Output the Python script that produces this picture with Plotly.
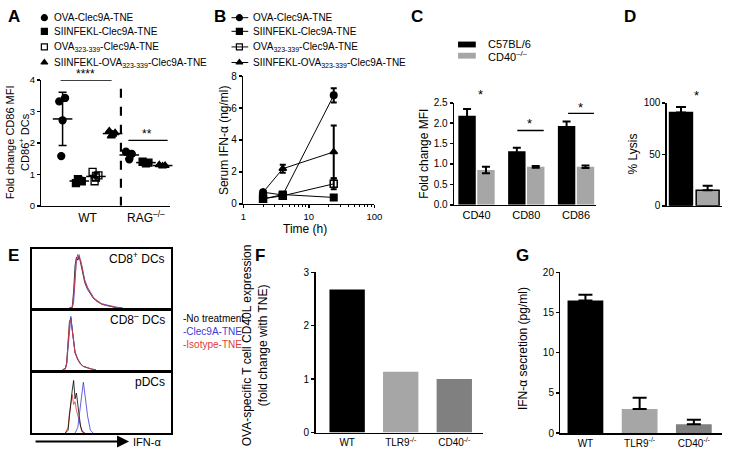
import plotly.graph_objects as go
import numpy as np

W, H = 732, 469
FONT = "Liberation Sans, Arial, Helvetica, sans-serif"

# ---------------- DATA ----------------
# Panel A: fold change CD86 MFI (individual mice)
A_group_labels = ["WT", "RAG<sup>–/–</sup>"]
A_series_names = ["OVA-Clec9A-TNE", "SIINFEKL-Clec9A-TNE",
                  "OVA<sub>323-339</sub>-Clec9A-TNE",
                  "SIINFEKL-OVA<sub>323-339</sub>-Clec9A-TNE"]
A_ova_wt = [3.32, 3.43, 2.72, 1.58]
A_siin_wt = [0.72, 0.78, 0.80, 0.85]
A_ova323_wt = [1.08, 0.97, 0.90, 0.78]
A_siinova_wt = [2.38, 2.32, 2.27, 2.22]
A_ova_rag = [1.72, 1.65, 1.48]
A_siin_rag = [1.40, 1.37, 1.35]
A_siinova_rag = [1.30, 1.28, 1.26]

# Panel B: serum IFN-alpha over time
B_time = [2, 4, 24]
B_ova = [0.73, 0.55, 6.80]
B_ova_err = [0.10, 0.08, 0.45]
B_siin = [0.30, 0.58, 0.40]
B_siin_err = [0.05, 0.05, 0.05]
B_ova323 = [0.32, 0.50, 1.25]
B_ova323_err = [0.05, 0.10, 0.33]
B_siinova = [0.72, 2.20, 3.25]
B_siinova_err = [0.10, 0.25, 1.65]

# Panel C: fold change MFI
C_markers = ["CD40", "CD80", "CD86"]
C_series = ["C57BL/6", "CD40<sup>–/–</sup>"]
C_wt = [2.18, 1.31, 1.93]
C_wt_err = [0.17, 0.09, 0.11]
C_ko = [0.85, 0.93, 0.93]
C_ko_err = [0.08, 0.02, 0.03]

# Panel D: % lysis
D_groups = ["C57BL/6", "CD40-/-"]
D_vals = [90.5, 15.0]
D_err = [5.5, 4.5]

# Panel E: IFN-alpha histograms (relative intensity vs. relative fluorescence)
E1_x = [0.27, 0.29, 0.30, 0.31, 0.32, 0.33, 0.34, 0.35, 0.36, 0.37, 0.38, 0.40,
        0.42, 0.44, 0.46, 0.48, 0.50, 0.53, 0.56, 0.60, 0.65]
E1_none = [0, 0.02, 0.30, 0.75, 0.90, 0.85, 0.92, 0.80, 0.70, 0.55, 0.45, 0.33,
           0.25, 0.18, 0.13, 0.10, 0.07, 0.05, 0.03, 0.01, 0]
E1_clec = [0, 0, 0.10, 0.50, 0.85, 0.95, 0.88, 0.85, 0.72, 0.60, 0.50, 0.37,
           0.27, 0.20, 0.15, 0.11, 0.08, 0.06, 0.04, 0.02, 0]
E1_iso = [0, 0.01, 0.20, 0.65, 0.88, 0.90, 0.95, 0.82, 0.75, 0.60, 0.48, 0.35,
          0.26, 0.19, 0.14, 0.10, 0.07, 0.05, 0.03, 0.015, 0]
E2_x = [0.22, 0.24, 0.25, 0.26, 0.27, 0.28, 0.29, 0.30, 0.31, 0.33, 0.35, 0.37,
        0.40, 0.43, 0.46]
E2_none = [0, 0.02, 0.12, 0.45, 0.85, 0.92, 0.70, 0.45, 0.30, 0.18, 0.10, 0.06, 0.03, 0.01, 0]
E2_clec = [0, 0.01, 0.10, 0.40, 0.80, 0.95, 0.72, 0.48, 0.32, 0.19, 0.11, 0.06, 0.03, 0.01, 0]
E2_iso = [0, 0.02, 0.11, 0.43, 0.83, 0.90, 0.68, 0.46, 0.30, 0.18, 0.10, 0.06, 0.03, 0.01, 0]
E3_x = [0.24, 0.26, 0.27, 0.28, 0.29, 0.30, 0.31, 0.32, 0.33, 0.34, 0.35, 0.36, 0.38]
E3_none = [0, 0.05, 0.30, 0.60, 0.75, 0.92, 0.60, 0.70, 0.45, 0.30, 0.12, 0.04, 0]
E3_iso = [0, 0.10, 0.35, 0.55, 0.67, 0.50, 0.55, 0.40, 0.30, 0.20, 0.08, 0.02, 0]
E3_clec_x = [0.31, 0.33, 0.34, 0.35, 0.36, 0.37, 0.38, 0.39, 0.40, 0.41, 0.42, 0.44]
E3_clec = [0, 0.10, 0.30, 0.55, 0.70, 0.89, 0.65, 0.50, 0.30, 0.15, 0.05, 0]
E_panels = ["CD8<sup>+</sup> DCs", "CD8<sup>–</sup> DCs", "pDCs"]
E_legend = ["-No treatment", "-Clec9A-TNE", "-Isotype-TNE"]

# Panels F & G
FG_groups = ["WT", "TLR9<sup>-/-</sup>", "CD40<sup>-/-</sup>"]
F_vals = [2.68, 1.14, 1.00]
G_vals = [16.5, 3.0, 1.1]
G_err = [0.7, 1.4, 0.55]

# ---------------- HELPERS ----------------
def px(x):
    return x / W

def py(y):
    return 1 - y / H

def dx(a, b):
    return [px(a), px(b)]

def dy(top, bottom):
    return [py(bottom), py(top)]

BLACK = "black"
GRAY = "#a6a6a6"
DGRAY = "#808080"
BLUE = "#3a3ad6"
RED = "#e23a3a"

def ax(**kw):
    d = dict(showline=True, linecolor=BLACK, linewidth=1.5, showgrid=False,
             zeroline=False, ticks="outside", ticklen=4, tickwidth=1.5,
             tickcolor=BLACK, tickfont=dict(size=10, family=FONT, color=BLACK),
             fixedrange=True)
    d.update(kw)
    return d

fig = go.Figure()
ann = []
shapes = []

def text(x, y, s, size=11, xanchor="center", yanchor="middle", angle=0,
         color=BLACK, bold=False):
    ann.append(dict(x=px(x), y=py(y), xref="paper", yref="paper", text=s,
                    showarrow=False, xanchor=xanchor, yanchor=yanchor,
                    textangle=angle,
                    font=dict(size=size, family=FONT, color=color,
                              weight="bold" if bold else "normal")))

# ---------------- PANEL A ----------------
A_specs = [
    (A_ova_wt, 1, "circle", BLACK),
    (A_siin_wt, 2, "square", BLACK),
    (A_ova323_wt, 3, "square-open", BLACK),
    (A_siinova_wt, 4, "triangle-up", BLACK),
    (A_ova_rag, 5, "circle", BLACK),
    (A_siin_rag, 6, "square", BLACK),
    (A_siinova_rag, 7, "triangle-up", BLACK),
]
jit = [-0.2, 0.15, 0.0, -0.08]
for vals, col, sym, c in A_specs:
    xs = [col + jit[i] for i in range(len(vals))]
    fig.add_trace(go.Scatter(x=xs, y=vals, mode="markers", xaxis="x", yaxis="y",
                             marker=dict(symbol=sym, size=7, color=c,
                                         line=dict(color=BLACK, width=1.3)),
                             showlegend=False, cliponaxis=False))
    m = float(np.mean(vals))
    sd = float(np.std(vals, ddof=1))
    fig.add_trace(go.Scatter(x=[col], y=[m], mode="markers", xaxis="x", yaxis="y",
                             marker=dict(symbol="line-ew", size=14,
                                         line=dict(color=BLACK, width=1.5)),
                             error_y=dict(type="data", array=[sd], color=BLACK,
                                          thickness=1.5, width=4),
                             showlegend=False, cliponaxis=False))

# dashed divider
shapes.append(dict(type="line", xref="x", yref="y", x0=4.5, x1=4.5, y0=0, y1=4.1,
                   line=dict(color=BLACK, width=2.2, dash="dash")))
# significance
shapes.append(dict(type="line", xref="x", yref="y", x0=0.88, x1=3.94, y0=4.0, y1=4.0,
                   line=dict(color=BLACK, width=1.3)))
shapes.append(dict(type="line", xref="x", yref="y", x0=4.95, x1=7.3, y0=2.08, y1=2.08,
                   line=dict(color=BLACK, width=1.3)))
text(84, 70, "****", size=12)
text(146, 131, "**", size=12)

layout_axes = {}
layout_axes["xaxis"] = ax(domain=dx(39, 170), range=[-0.27, 7.47], tickvals=[2.5, 6],
                          ticktext=A_group_labels, ticks="", anchor="y",
                          tickfont=dict(size=12, family=FONT, color=BLACK))
layout_axes["yaxis"] = ax(domain=dy(76, 205), range=[0, 4], tickvals=[0, 1, 2, 3, 4],
                          anchor="x", ticklen=3, tickfont=dict(size=9.5, family=FONT, color=BLACK))
text(15, 140, "Fold change CD86 MFI<br>CD86<sup>+</sup> DCs", size=11, angle=-90)

# Legend A (manual)
A_leg_y = [12, 26, 42, 58]
A_leg_sym = ["circle", "square", "square-open", "triangle-up"]
for yy, sym, name in zip(A_leg_y, A_leg_sym, A_series_names):
    fig.add_trace(go.Scatter(x=[42], y=[yy], mode="markers", xaxis="x10", yaxis="y10",
                             marker=dict(symbol=sym, size=6, color=BLACK,
                                         line=dict(color=BLACK, width=1.2)),
                             showlegend=False, cliponaxis=False))
    text(50, yy, name, size=10, xanchor="left")

# ---------------- PANEL B ----------------
B_specs = [
    (B_ova, B_ova_err, "circle", 6.5),
    (B_siin, B_siin_err, "square", 6.5),
    (B_ova323, B_ova323_err, "square-open", 7),
    (B_siinova, B_siinova_err, "triangle-up", 6.5),
]
for vals, err, sym, sz in B_specs:
    fig.add_trace(go.Scatter(x=B_time, y=vals, mode="lines+markers", xaxis="x2", yaxis="y2",
                             line=dict(color=BLACK, width=1),
                             marker=dict(symbol=sym, size=sz, color=BLACK,
                                         line=dict(color=BLACK, width=1.5)),
                             error_y=dict(type="data", array=err, color=BLACK,
                                          thickness=2, width=3),
                             showlegend=False, cliponaxis=False))
layout_axes["xaxis2"] = ax(domain=dx(244, 377), type="log", range=[0, 2],
                           tickvals=[1, 10, 100], ticktext=["1", "10", "100"], anchor="y2",
                           ticklen=3, tickfont=dict(size=9.5, family=FONT, color=BLACK),
                           minor=dict(tickvals=[2, 3, 4, 5, 6, 7, 8, 9, 20, 30, 40, 50, 60, 70, 80, 90],
                                      ticks="outside", ticklen=2, tickwidth=1, tickcolor=BLACK))
layout_axes["yaxis2"] = ax(domain=dy(72, 203), range=[0, 8], tickvals=[0, 2, 4, 6, 8],
                           anchor="x2", ticklen=3)
text(225, 138, "Serum IFN-α (ng/ml)", size=12, angle=-90)
text(307, 229, "Time (h)", size=12)

for yy, sym, name in zip(A_leg_y, A_leg_sym, A_series_names):
    fig.add_trace(go.Scatter(x=[232, 249], y=[yy, yy], mode="lines", xaxis="x10", yaxis="y10",
                             line=dict(color=BLACK, width=1), showlegend=False, cliponaxis=False))
    fig.add_trace(go.Scatter(x=[240], y=[yy], mode="markers", xaxis="x10", yaxis="y10",
                             marker=dict(symbol=sym, size=6, color=BLACK,
                                         line=dict(color=BLACK, width=1.2)),
                             showlegend=False, cliponaxis=False))
    text(252, yy, name, size=10, xanchor="left")

# ---------------- PANEL C ----------------
C_x = list(range(len(C_markers)))
fig.add_trace(go.Bar(x=C_x, y=C_wt, xaxis="x3", yaxis="y3", width=0.35, offset=-0.365,
                     marker=dict(color=BLACK, line=dict(width=0)),
                     error_y=dict(type="data", array=C_wt_err, color=BLACK, thickness=2, width=4),
                     showlegend=False))
fig.add_trace(go.Bar(x=C_x, y=C_ko, xaxis="x3", yaxis="y3", width=0.35, offset=0.015,
                     marker=dict(color=GRAY, line=dict(width=0)),
                     error_y=dict(type="data", array=C_ko_err, color=BLACK, thickness=2, width=4),
                     showlegend=False))
layout_axes["xaxis3"] = ax(domain=dx(458, 602), range=[-0.45, 2.4], tickvals=C_x,
                           ticktext=C_markers, ticks="", anchor="y3",
                           tickfont=dict(size=11, family=FONT, color=BLACK))
layout_axes["yaxis3"] = ax(domain=dy(99.3, 204), range=[0, 2.5],
                           tickvals=[0, 0.5, 1, 1.5, 2, 2.5], tickformat=".1f", anchor="x3",
                           ticklen=3)
text(428, 152, "Fold change MFI", size=12, angle=-90)
for x0, x1, yl in [(-0.15, 0.35, 2.55), (0.82, 1.35, 1.82), (1.84, 2.36, 2.24)]:
    shapes.append(dict(type="line", xref="x3", yref="y3", x0=x0, x1=x1, y0=yl, y1=yl,
                       line=dict(color=BLACK, width=1.3)))
text(485, 91, "*", size=13)
text(535, 121, "*", size=13)
text(586, 104, "*", size=13)
# legend C
shapes.append(dict(type="rect", xref="paper", yref="paper", x0=px(462), x1=px(480),
                   y0=py(42.5), y1=py(36.5), fillcolor=BLACK, line=dict(width=0)))
shapes.append(dict(type="rect", xref="paper", yref="paper", x0=px(462), x1=px(480),
                   y0=py(54), y1=py(48), fillcolor=GRAY, line=dict(width=0)))
text(490, 39.5, C_series[0], size=11, xanchor="left")
text(490, 51.5, C_series[1], size=11, xanchor="left")

# ---------------- PANEL D ----------------
fig.add_trace(go.Bar(x=[0, 1], y=D_vals, xaxis="x4", yaxis="y4", width=0.86,
                     marker=dict(color=[BLACK, GRAY], line=dict(color=BLACK, width=1.5)),
                     error_y=dict(type="data", array=D_err, arrayminus=[0, 0], symmetric=False,
                                  color=BLACK, thickness=2, width=5),
                     showlegend=False, hovertext=D_groups))
layout_axes["xaxis4"] = ax(domain=dx(674, 730), range=[-0.53, 1.54], tickvals=[],
                           ticks="", showticklabels=False, anchor="y4")
layout_axes["yaxis4"] = ax(domain=dy(99.3, 205), range=[0, 100], tickvals=[0, 50, 100],
                           anchor="x4", ticklen=3)
shapes.append(dict(type="line", xref="x4", yref="y4", x0=0.07, x1=1.05, y0=102, y1=102,
                   line=dict(color=BLACK, width=1.3)))
text(704, 92, "*", size=13)
text(640, 152, "% Lysis", size=12, angle=-90)

# ---------------- PANEL E ----------------
E_dom_y = [(249.3, 310), (312.7, 373.3), (376.7, 438.3)]
E_curves = [
    [(E1_x, E1_none, BLACK), (E1_x, E1_clec, BLUE), (E1_x, E1_iso, RED)],
    [(E2_x, E2_none, BLACK), (E2_x, E2_clec, BLUE), (E2_x, E2_iso, RED)],
    [(E3_x, E3_iso, RED), (E3_x, E3_none, BLACK), (E3_clec_x, E3_clec, BLUE)],
]
for i, (dom, curves, lab) in enumerate(zip(E_dom_y, E_curves, E_panels)):
    n = 5 + i
    for xs, ys, c in curves:
        fig.add_trace(go.Scatter(x=xs, y=ys, mode="lines", xaxis=f"x{n}", yaxis=f"y{n}",
                                 line=dict(color=c, width=1), opacity=0.8,
                                 showlegend=False))
    layout_axes[f"xaxis{n}"] = dict(domain=dx(29.3, 170.7), range=[0, 1], showline=True,
                                    mirror=True, linecolor=BLACK, linewidth=2.2,
                                    ticks="", showticklabels=False, showgrid=False,
                                    zeroline=False, anchor=f"y{n}", fixedrange=True)
    layout_axes[f"yaxis{n}"] = dict(domain=dy(*dom), range=[0, 1.05], showline=True,
                                    mirror=True, linecolor=BLACK, linewidth=2.2,
                                    ticks="", showticklabels=False, showgrid=False,
                                    zeroline=False, anchor=f"x{n}", fixedrange=True)
    text(167, dom[0] + 9, lab, size=12, xanchor="right")
for yy, lab, c in zip([321, 334, 347], E_legend, [BLACK, BLUE, RED]):
    text(181, yy, lab, size=10, xanchor="left", color=c)
ann.append(dict(x=px(128), y=py(447), xref="paper", yref="paper", ax=-95, ay=0,
                text="", showarrow=True, arrowhead=2, arrowsize=1.2, arrowwidth=2,
                arrowcolor=BLACK))
text(130, 447, "IFN-α", size=11, xanchor="left")

# ---------------- PANEL F ----------------
FG_x = list(range(len(FG_groups)))
fig.add_trace(go.Bar(x=FG_x, y=F_vals, xaxis="x8", yaxis="y8", width=0.66,
                     marker=dict(color=[BLACK, GRAY, DGRAY], line=dict(width=0)),
                     showlegend=False))
layout_axes["xaxis8"] = ax(domain=dx(317.3, 487), range=[-0.59, 2.53], tickvals=FG_x,
                           ticktext=FG_groups, ticks="", anchor="y8")
layout_axes["yaxis8"] = ax(domain=dy(273.3, 437.7), range=[0, 3], tickvals=[0, 1, 2, 3],
                           anchor="x8", ticklen=3)
text(256, 348, "OVA-specific T cell CD40L expression<br>(fold change with TNE)", size=12,
     angle=-90)

# ---------------- PANEL G ----------------
fig.add_trace(go.Bar(x=FG_x, y=G_vals, xaxis="x9", yaxis="y9", width=0.66,
                     marker=dict(color=[BLACK, GRAY, DGRAY], line=dict(width=0)),
                     error_y=dict(type="data", array=G_err, arrayminus=[0, 0, 0],
                                  symmetric=False, color=BLACK, thickness=2, width=7),
                     showlegend=False))
layout_axes["xaxis9"] = ax(domain=dx(566, 730), range=[-0.46, 2.52], tickvals=FG_x,
                           ticktext=FG_groups, ticks="", anchor="y9")
layout_axes["yaxis9"] = ax(domain=dy(273.3, 438.3), range=[0, 20],
                           tickvals=[0, 5, 10, 15, 20], anchor="x9", ticklen=3)
text(528, 352, "IFN-α secretion (pg/ml)", size=12, angle=-90)

# ---------------- overlay (pixel space for legends) ----------------
layout_axes["xaxis10"] = dict(domain=[0, 1], range=[0, W], visible=False, anchor="y10",
                              fixedrange=True)
layout_axes["yaxis10"] = dict(domain=[0, 1], range=[H, 0], visible=False, anchor="x10",
                              fixedrange=True)

# panel letters
for letter, (lx, ly) in zip("ABCDEFG", [(11, 11), (220, 11), (420, 11), (637, 11),
                                          (11, 256), (261, 256), (527, 256)]):
    text(lx, ly, letter, size=17, bold=True)

fig.update_layout(width=W, height=H, margin=dict(l=0, r=0, t=0, b=0),
                  paper_bgcolor="white", plot_bgcolor="rgba(0,0,0,0)", showlegend=False,
                  hovermode=False,
                  font=dict(family=FONT, color=BLACK), annotations=ann, shapes=shapes,
                  **layout_axes)

fig.write_html("out.html", config={"displayModeBar": False, "staticPlot": True},
               post_script="document.body.style.margin='0px';")
